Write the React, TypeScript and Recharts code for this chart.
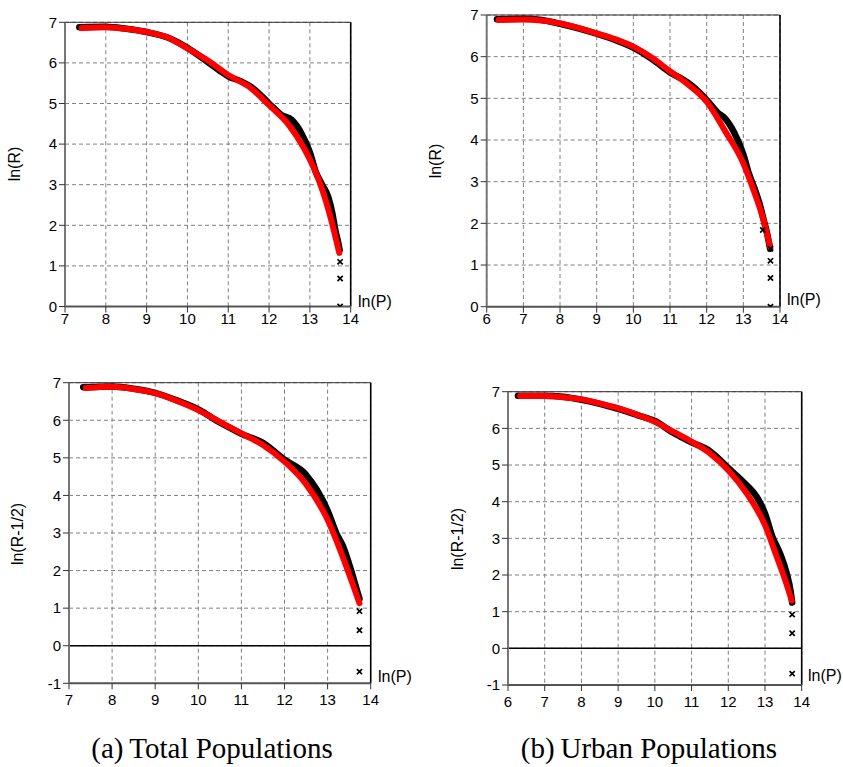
import React from 'react';
import { ComposedChart, Line, Scatter, XAxis, YAxis, CartesianGrid, ReferenceLine } from 'recharts';

type Pt = { p: number; r: number };
const mk = (xs: number[], ys: number[]): Pt[] => xs.map((p, i) => ({ p, r: ys[i] }));

// ---------- (a) Total populations, ln(R) ----------
const aTopBlackP = [7.35, 8.0, 8.5, 9.0, 9.5, 10.0, 10.5, 10.8, 11.0, 11.3, 11.6, 12.0, 12.3, 12.55, 12.8, 13.0, 13.15, 13.3, 13.45, 13.55, 13.62, 13.7, 13.73];
const aTopBlackR = [6.88, 6.89, 6.84, 6.76, 6.63, 6.37, 6.02, 5.8, 5.67, 5.55, 5.38, 5.0, 4.72, 4.6, 4.25, 3.8, 3.3, 3.0, 2.7, 2.3, 1.9, 1.55, 1.39];
const aTopRedP = [7.41, 8.0, 8.5, 9.0, 9.5, 10.0, 10.5, 11.0, 11.5, 12.0, 12.5, 13.0, 13.25, 13.5, 13.72];
const aTopRedR = [6.86, 6.88, 6.84, 6.76, 6.63, 6.36, 6.06, 5.7, 5.42, 4.96, 4.45, 3.62, 3.03, 2.22, 1.32];
const aTopOutP = [13.74, 13.74, 13.74];
const aTopOutR = [1.1, 0.69, 0.0];

// ---------- (b) Urban populations, ln(R) ----------
const bTopBlackP = [6.28, 7.0, 7.5, 8.0, 8.5, 9.0, 9.5, 10.0, 10.5, 10.8, 11.0, 11.3, 11.6, 12.0, 12.3, 12.5, 12.75, 13.0, 13.15, 13.3, 13.45, 13.55, 13.65, 13.73];
const bTopBlackR = [6.9, 6.91, 6.88, 6.79, 6.68, 6.55, 6.4, 6.22, 5.95, 5.75, 5.62, 5.48, 5.3, 4.96, 4.66, 4.52, 4.18, 3.66, 3.2, 2.85, 2.45, 2.1, 1.75, 1.39];
const bTopRedP = [6.32, 7.0, 7.5, 8.0, 8.5, 9.0, 9.5, 10.0, 10.5, 11.0, 11.5, 12.0, 12.5, 13.0, 13.27, 13.55, 13.73];
const bTopRedR = [6.88, 6.89, 6.87, 6.8, 6.69, 6.56, 6.42, 6.24, 5.98, 5.65, 5.33, 4.92, 4.22, 3.44, 2.82, 2.08, 1.44];
const bTopOutP = [13.74, 13.74, 13.74, 13.74, 13.53];
const bTopOutR = [1.39, 1.1, 0.69, 0.0, 1.84];

// ---------- (a) Total populations, ln(R-1/2) ----------
const aBotBlackP = [7.33, 8.0, 8.5, 9.0, 9.5, 10.0, 10.5, 10.8, 11.0, 11.5, 12.0, 12.5, 12.75, 13.0, 13.2, 13.36, 13.52, 13.65, 13.74];
const aBotBlackR = [6.88, 6.9, 6.84, 6.73, 6.53, 6.29, 5.94, 5.76, 5.64, 5.4, 4.95, 4.55, 4.15, 3.6, 3.0, 2.64, 2.1, 1.6, 1.25];
const aBotRedP = [7.39, 8.0, 8.5, 9.0, 9.5, 10.0, 10.5, 11.0, 11.5, 12.0, 12.5, 13.0, 13.29, 13.52, 13.74];
const aBotRedR = [6.86, 6.89, 6.83, 6.72, 6.52, 6.27, 5.96, 5.65, 5.34, 4.9, 4.3, 3.35, 2.55, 1.84, 1.13];
const aBotOutP = [13.74, 13.74, 13.74];
const aBotOutR = [0.92, 0.41, -0.69];

// ---------- (b) Urban populations, ln(R-1/2) ----------
const bBotBlackP = [6.27, 7.0, 7.5, 8.0, 8.5, 9.0, 9.5, 10.0, 10.5, 10.8, 11.0, 11.5, 12.0, 12.5, 12.77, 13.0, 13.2, 13.41, 13.59, 13.7, 13.74];
const bBotBlackR = [6.89, 6.89, 6.86, 6.78, 6.67, 6.53, 6.37, 6.2, 5.88, 5.72, 5.62, 5.38, 4.92, 4.45, 4.14, 3.68, 3.05, 2.59, 2.05, 1.55, 1.25];
const bBotRedP = [6.33, 7.0, 7.5, 8.0, 8.5, 9.0, 9.5, 10.0, 10.5, 11.0, 11.5, 12.0, 12.5, 13.0, 13.32, 13.55, 13.73];
const bBotRedR = [6.88, 6.88, 6.85, 6.79, 6.68, 6.55, 6.38, 6.18, 5.91, 5.64, 5.32, 4.86, 4.23, 3.36, 2.5, 1.86, 1.3];
const bBotOutP = [13.74, 13.74, 13.74];
const bBotOutR = [0.92, 0.41, -0.69];

const xTicksA = [7, 8, 9, 10, 11, 12, 13, 14];
const xTicksB = [6, 7, 8, 9, 10, 11, 12, 13, 14];
const yTicksTop = [0, 1, 2, 3, 4, 5, 6, 7];
const yTicksBot = [-1, 0, 1, 2, 3, 4, 5, 6, 7];

const SANS = '"Liberation Sans", Arial, sans-serif';
const SERIF = '"Liberation Serif", "Times New Roman", serif';

const Cross = (props: any) => {
  const { cx, cy } = props;
  if (cx == null || cy == null) return null;
  const s = 2.6;
  return (
    <path
      d={`M${cx - s},${cy - s}L${cx + s},${cy + s}M${cx + s},${cy - s}L${cx - s},${cy + s}`}
      stroke="#000"
      strokeWidth={1.7}
      fill="none"
    />
  );
};

type Box = { L: number; T: number; R: number; B: number };

function Panel(props: {
  left: number; top: number; width: number; height: number;
  plot: Box; xTicks: number[]; yTicks: number[];
  black: Pt[]; red: Pt[]; out: Pt[]; zero: boolean; tickMarginX: number;
}) {
  const { left, top, width, height, plot, xTicks, yTicks, black, red, out, zero, tickMarginX } = props;
  const margin = { top: plot.T - top, right: left + width - plot.R, left: 0, bottom: 0 };
  const yW = plot.L - left;
  const xH = top + height - plot.B;
  const tickStyle = { fontSize: 15, fill: '#000', fontFamily: SANS };
  return (
    <div style={{ position: 'absolute', left, top, width, height }}>
      <ComposedChart width={width} height={height} margin={margin}>
        <CartesianGrid stroke="#808080" strokeDasharray="4 3" strokeWidth={1} />
        <XAxis
          type="number"
          dataKey="p"
          domain={[xTicks[0], xTicks[xTicks.length - 1]]}
          ticks={xTicks}
          interval={0}
          allowDataOverflow
          height={xH}
          tick={tickStyle}
          tickSize={6}
          tickMargin={tickMarginX}
          axisLine={{ stroke: '#555', strokeWidth: 2 }}
          tickLine={{ stroke: '#333' }}
        />
        <YAxis
          type="number"
          dataKey="r"
          domain={[yTicks[0], yTicks[yTicks.length - 1]]}
          ticks={yTicks}
          interval={0}
          allowDataOverflow
          width={yW}
          tick={tickStyle}
          tickSize={6}
          tickMargin={2}
          axisLine={{ stroke: '#777', strokeWidth: 2 }}
          tickLine={{ stroke: '#333' }}
        />
        <ReferenceLine y={yTicks[yTicks.length - 1]} stroke="#333" strokeWidth={1} />
        <ReferenceLine x={xTicks[xTicks.length - 1]} stroke="#000" strokeWidth={1.6} />
        {zero && <ReferenceLine y={0} stroke="#000" strokeWidth={1.5} />}
        <Line
          data={black}
          dataKey="r"
          type="monotone"
          stroke="#000"
          strokeWidth={6.5}
          strokeLinecap="round"
          dot={false}
          isAnimationActive={false}
        />
        <Line
          data={red}
          dataKey="r"
          type="monotone"
          stroke="#ff0000"
          strokeWidth={6}
          strokeLinecap="round"
          dot={false}
          isAnimationActive={false}
        />
        <Scatter data={out} dataKey="r" shape={Cross} isAnimationActive={false} />
      </ComposedChart>
    </div>
  );
}

const txt = (s: string, x: number, y: number, rotate: boolean, size = 16, font = SANS, center = true) => (
  <div
    style={{
      position: 'absolute',
      left: x,
      top: y,
      transform: `translate(${center ? '-50%' : '0'}, -50%)${rotate ? ' rotate(-90deg)' : ''}`,
      fontFamily: font,
      fontSize: size,
      lineHeight: 1,
      whiteSpace: 'nowrap',
      color: '#000',
    }}
  >
    {s}
  </div>
);

export default function App() {
  return (
    <div style={{ position: 'absolute', left: 0, top: 0, width: 843, height: 767, background: '#fff', overflow: 'hidden' }}>
      <Panel
        left={0} top={0} width={420} height={345}
        plot={{ L: 65, T: 22.3, R: 350.7, B: 306.5 }}
        xTicks={xTicksA} yTicks={yTicksTop}
        black={mk(aTopBlackP, aTopBlackR)} red={mk(aTopRedP, aTopRedR)} out={mk(aTopOutP, aTopOutR)}
        zero={false} tickMarginX={1}
      />
      <Panel
        left={421} top={0} width={422} height={345}
        plot={{ L: 486.7, T: 15, R: 780, B: 306.7 }}
        xTicks={xTicksB} yTicks={yTicksTop}
        black={mk(bTopBlackP, bTopBlackR)} red={mk(bTopRedP, bTopRedR)} out={mk(bTopOutP, bTopOutR)}
        zero={false} tickMarginX={1}
      />
      <Panel
        left={0} top={360} width={420} height={360}
        plot={{ L: 69, T: 382.7, R: 370.7, B: 683.3 }}
        xTicks={xTicksA} yTicks={yTicksBot}
        black={mk(aBotBlackP, aBotBlackR)} red={mk(aBotRedP, aBotRedR)} out={mk(aBotOutP, aBotOutR)}
        zero={true} tickMarginX={5}
      />
      <Panel
        left={421} top={360} width={422} height={360}
        plot={{ L: 508, T: 391.7, R: 801.7, B: 685 }}
        xTicks={xTicksB} yTicks={yTicksBot}
        black={mk(bBotBlackP, bBotBlackR)} red={mk(bBotRedP, bBotRedR)} out={mk(bBotOutP, bBotOutR)}
        zero={true} tickMarginX={5}
      />
      {txt('ln(R)', 15, 164, true)}
      {txt('ln(R)', 436, 161, true)}
      {txt('ln(R-1/2)', 18, 534, true)}
      {txt('ln(R-1/2)', 458, 539, true)}
      {txt('ln(P)', 358, 302, false, 16, SANS, false)}
      {txt('ln(P)', 787, 300, false, 16, SANS, false)}
      {txt('ln(P)', 378, 677, false, 16, SANS, false)}
      {txt('ln(P)', 808, 676, false, 16, SANS, false)}
      {txt('(a)\u2009Total Populations', 212, 748, false, 29, SERIF)}
      {txt('(b)\u2009Urban Populations', 649, 748, false, 29, SERIF)}
    </div>
  );
}
